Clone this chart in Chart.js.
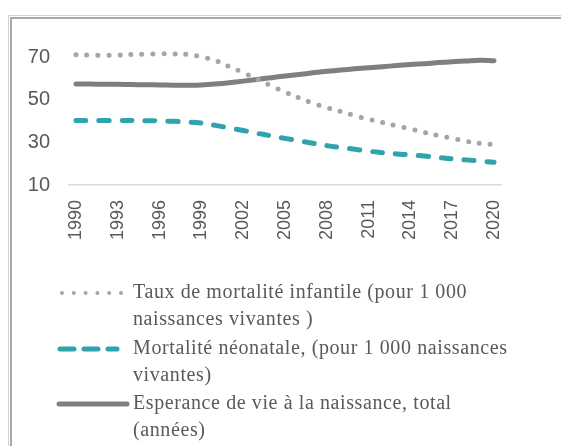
<!DOCTYPE html>
<html>
<head>
<meta charset="utf-8">
<script src="https://cdn.jsdelivr.net/npm/chart.js@4"></script>
<style>
  html, body { margin: 0; padding: 0; background: #ffffff; }
  #wrap { position: relative; width: 561px; height: 446px; overflow: hidden; }
  #frameOuter { position: absolute; left: 8px; top: 15px; width: 620px; height: 500px;
    border-left: 1px solid #d2d2d2; border-top: 1px solid #d2d2d2; }
  #frameInner { position: absolute; left: 1px; top: 1px; width: 610px; height: 490px;
    border-left: 2px solid #a8a8a8; border-top: 2px solid #a8a8a8; }
  canvas { position: absolute; left: 0; top: 0; }
</style>
</head>
<body>
<div id="wrap">
  <div id="frameOuter"><div id="frameInner"></div></div>
  <canvas id="c" width="561" height="446"></canvas>
</div>
<script>
const years = [1990,1991,1992,1993,1994,1995,1996,1997,1998,1999,2000,2001,2002,2003,2004,2005,2006,2007,2008,2009,2010,2011,2012,2013,2014,2015,2016,2017,2018,2019,2020];

const infantMortality = [71.2,71.1,70.9,71.0,71.3,71.5,71.6,71.6,71.3,70.2,68.5,65.6,62.8,59.7,56.6,53.7,50.9,48.4,46.3,44.6,42.6,40.9,39.4,37.8,36.3,34.7,33.2,31.9,30.5,29.6,28.9];

const neonatalMortality = [40.3,40.3,40.3,40.3,40.3,40.2,40.1,39.9,39.6,39.1,38.0,36.8,35.6,34.3,33.1,31.9,30.8,29.6,28.5,27.6,26.8,25.9,25.2,24.6,24.1,23.6,22.9,22.3,21.8,21.2,20.7];

const lifeExpectancy = [57.4,57.4,57.3,57.3,57.2,57.1,57.0,56.9,56.9,57.0,57.4,58.0,58.8,59.6,60.4,61.2,61.9,62.7,63.4,64.0,64.6,65.1,65.6,66.1,66.6,67.0,67.5,67.9,68.3,68.6,68.4];

const yTickValues = [10, 30, 50, 70];

const legendInfant = ["Taux de mortalité infantile (pour 1 000", "naissances vivantes )"];
const legendNeonatal = ["Mortalité néonatale, (pour 1 000 naissances", "vivantes)"];
const legendLife = ["Esperance de vie à la naissance, total", "(années)"];

const legendPlugin = {
  id: 'customLegend',
  afterDraw(chart) {
    const ctx = chart.ctx;
    const ds = chart.data.datasets;
    const entries = [
      { d: ds[0], y: 293, x0: 62, x1: 122, dash: [0, 11.8], width: 4 },
      { d: ds[1], y: 349, x0: 60, x1: 117, dash: [14, 10], width: 5 },
      { d: ds[2], y: 404, x0: 59, x1: 127, dash: [], width: 5 }
    ];
    ctx.save();
    entries.forEach(e => {
      ctx.beginPath();
      ctx.strokeStyle = e.d.borderColor;
      ctx.lineWidth = e.width;
      ctx.lineCap = 'round';
      ctx.setLineDash(e.dash);
      ctx.moveTo(e.x0, e.y);
      ctx.lineTo(e.x1, e.y);
      ctx.stroke();
      ctx.setLineDash([]);
      ctx.fillStyle = '#595959';
      ctx.font = '20px "Liberation Serif", serif';
      if ('letterSpacing' in ctx) ctx.letterSpacing = '0.6px';
      ctx.textBaseline = 'middle';
      ctx.textAlign = 'left';
      e.d.legendLines.forEach((t, i) => {
        ctx.fillText(t, 133, e.y + i * 27);
      });
      if ('letterSpacing' in ctx) ctx.letterSpacing = '0px';
    });
    ctx.restore();
  }
};

new Chart(document.getElementById('c'), {
  type: 'line',
  data: {
    labels: years,
    datasets: [
      {
        label: legendInfant.join(' '),
        legendLines: legendInfant,
        data: infantMortality,
        borderColor: '#A5A5A5',
        borderWidth: 5,
        borderDash: [0, 11],
        borderCapStyle: 'round',
        pointRadius: 0,
        tension: 0.4,
        fill: false
      },
      {
        label: legendNeonatal.join(' '),
        legendLines: legendNeonatal,
        data: neonatalMortality,
        borderColor: '#2FA3AE',
        borderWidth: 5,
        borderDash: [10, 13],
        borderCapStyle: 'round',
        pointRadius: 0,
        tension: 0.4,
        fill: false
      },
      {
        label: legendLife.join(' '),
        legendLines: legendLife,
        data: lifeExpectancy,
        borderColor: '#7F7F7F',
        borderWidth: 5,
        borderCapStyle: 'round',
        pointRadius: 0,
        tension: 0.4,
        fill: false
      }
    ]
  },
  options: {
    responsive: false,
    animation: false,
    layout: { padding: { top: 36, right: 60, left: 0, bottom: 0 } },
    plugins: {
      legend: { display: false },
      tooltip: { enabled: false }
    },
    scales: {
      x: {
        type: 'category',
        offset: true,
        grid: { display: false, drawTicks: false },
        border: { display: true, color: '#d9d9d9', width: 1.5 },
        ticks: {
          autoSkip: false,
          minRotation: 90,
          maxRotation: 90,
          padding: 15,
          color: '#595959',
          font: { family: '"Liberation Sans", sans-serif', size: 18 },
          callback: function(val, idx) { return idx % 3 === 0 ? this.getLabelForValue(val) : ''; }
        },
        afterFit: s => { s.height = 446 - 185; }
      },
      y: {
        min: 10,
        max: 80,
        grid: { display: false, drawTicks: false },
        border: { display: false },
        ticks: {
          padding: 19,
          color: '#595959',
          font: { family: '"Liberation Sans", sans-serif', size: 20 }
        },
        afterBuildTicks: s => { s.ticks = yTickValues.map(v => ({ value: v })); },
        afterFit: s => { s.width = 69; }
      }
    }
  },
  plugins: [legendPlugin]
});
</script>
</body>
</html>
